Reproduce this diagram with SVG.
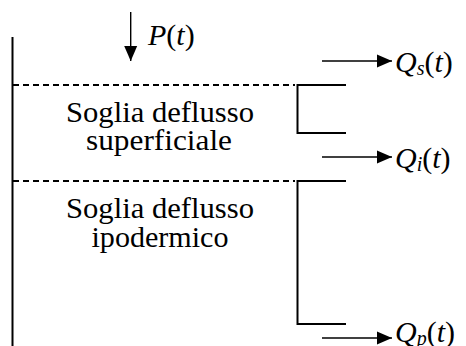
<svg xmlns="http://www.w3.org/2000/svg" width="466" height="346" viewBox="0 0 466 346">
<style>
text{font-family:'Liberation Serif','Times New Roman',serif;font-size:30px;fill:#000}
.i{font-style:italic}
.sub{font-size:20px;font-style:italic}
.wall{stroke:#000;stroke-width:2;fill:none}
.dash{stroke:#000;stroke-width:2;stroke-dasharray:6,4;fill:none}
.arr{stroke:#000;stroke-width:1.4;fill:none}
</style>
<defs>
<marker id="ah" markerUnits="userSpaceOnUse" markerWidth="16" markerHeight="14" refX="15" refY="7" orient="auto">
<path d="M0,0.5 L15,7 L0,13.5 Z" fill="#000"/>
</marker>
</defs>
<g id="reservoir">
<line class="wall" x1="12.5" y1="37" x2="12.5" y2="346"/>
<line class="dash" x1="13" y1="85" x2="295" y2="85"/>
<line class="dash" x1="13" y1="181" x2="295" y2="181"/>
</g>
<g id="outlet-superficiale">
<polyline class="wall" points="346,85 297.5,85 297.5,133 346,133"/>
</g>
<g id="outlet-ipodermico">
<polyline class="wall" points="346,181 297.5,181 297.5,324 346,324"/>
</g>
<g id="label-superficiale">
<text x="160" y="122" text-anchor="middle" textLength="188" lengthAdjust="spacingAndGlyphs">Soglia deflusso</text>
<text x="159" y="150" text-anchor="middle" textLength="146" lengthAdjust="spacingAndGlyphs">superficiale</text>
</g>
<g id="label-ipodermico">
<text x="160" y="218" text-anchor="middle" textLength="188" lengthAdjust="spacingAndGlyphs">Soglia deflusso</text>
<text x="160" y="247" text-anchor="middle" textLength="137" lengthAdjust="spacingAndGlyphs">ipodermico</text>
</g>
<g id="connectors">
<line class="arr" x1="130.7" y1="12" x2="130.7" y2="61" marker-end="url(#ah)"/>
<line class="arr" x1="322" y1="61" x2="392" y2="61" marker-end="url(#ah)"/>
<line class="arr" x1="322" y1="157" x2="392" y2="157" marker-end="url(#ah)"/>
<line class="arr" x1="322" y1="338" x2="392" y2="338" marker-end="url(#ah)"/>
</g>
<g id="P">
<text x="148" y="45"><tspan class="i">P</tspan>(<tspan class="i">t</tspan>)</text>
</g>
<g id="Qs">
<text x="395" y="72"><tspan class="i">Q</tspan><tspan class="sub" dy="3">s</tspan><tspan dy="-3">(</tspan><tspan class="i">t</tspan>)</text>
</g>
<g id="Qi">
<text x="395" y="168"><tspan class="i">Q</tspan><tspan class="sub" dy="3">i</tspan><tspan dy="-3">(</tspan><tspan class="i">t</tspan>)</text>
</g>
<g id="Qp">
<text x="395" y="342"><tspan class="i">Q</tspan><tspan class="sub" dy="3">p</tspan><tspan dy="-3">(</tspan><tspan class="i">t</tspan>)</text>
</g>
</svg>
